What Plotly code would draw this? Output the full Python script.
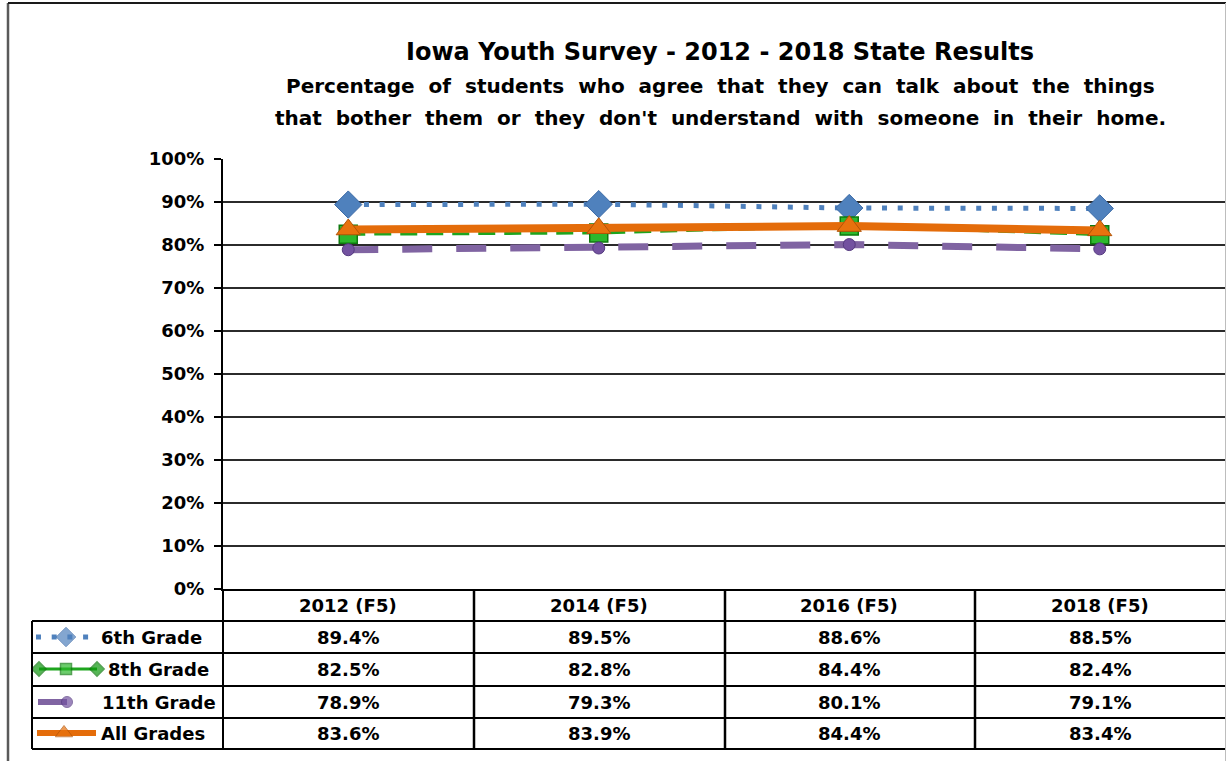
import plotly.graph_objects as go

# ---------------- data ----------------
years = ["2012 (F5)", "2014 (F5)", "2016 (F5)", "2018 (F5)"]
series_names = ["6th Grade", "8th Grade", "11th Grade", "All Grades"]
grade6 = [89.4, 89.5, 88.6, 88.5]
grade8 = [82.5, 82.8, 84.4, 82.4]
grade11 = [78.9, 79.3, 80.1, 79.1]
all_grades = [83.6, 83.9, 84.4, 83.4]
y_tick_values = [0, 10, 20, 30, 40, 50, 60, 70, 80, 90, 100]
y_tick_labels = ["0%", "10%", "20%", "30%", "40%", "50%", "60%", "70%", "80%", "90%", "100%"]
title_lines = [
    "Iowa Youth Survey - 2012 - 2018 State Results",
    "Percentage  of  students  who  agree  that  they  can  talk  about  the  things",
    "that  bother  them  or  they  don't  understand  with  someone  in  their  home.",
]

# ---------------- styles ----------------
W, H = 1226, 761
FONT = "DejaVu Sans, sans-serif"
PLOT_L, PLOT_R, PLOT_T, PLOT_B = 223, 1225, 159, 589
ROW_LINES = [621, 653, 686, 718, 749]
HEADER_Y = 605
ROW_Y = [637, 669, 702, 733]
COL_LINES = [474, 725, 975]
TABLE_L = 32
LABEL_X = [99, 106, 100, 99]

styles = [
    dict(color="#4F81BD", width=5, dash="5px,10.7px",
         marker=dict(symbol="diamond", size=21, color="#4F81BD", line=dict(color="#3B6AA6", width=1)),
         key_marker=15),
    dict(color="#1EA51E", width=3, dash="17px,9px",
         marker=dict(symbol="square", size=18, color="#2DB82D", line=dict(color="#0E7A0E", width=1.5)),
         key_marker=11),
    dict(color="#8064A2", width=7, dash="30px,24px",
         marker=dict(symbol="circle", size=12, color="#7352A0", line=dict(color="#553A80", width=1)),
         key_marker=11),
    dict(color="#E46C0A", width=8, dash="solid",
         marker=dict(symbol="triangle-up", size=21, color="#E8720E", line=dict(color="#B35406", width=1)),
         key_marker=15),
]
series_values = [grade6, grade8, grade11, all_grades]

fig = go.Figure()

# main lines
for name, vals, st in zip(series_names, series_values, styles):
    fig.add_trace(go.Scatter(
        x=years, y=vals, name=name, mode="lines+markers",
        line=dict(color=st["color"], width=st["width"], dash=st["dash"]),
        marker=st["marker"], xaxis="x", yaxis="y", hoverinfo="skip",
    ))

# legend keys inside the data table (pixel-coordinate helper axes)
key_x = [[36, 66, 96], [39, 66, 97], [38, 67, 60], [37, 64, 96]]
for i, (name, st) in enumerate(zip(series_names, styles)):
    ky = ROW_Y[i]
    m = dict(st["marker"])
    if i == 1:
        m["symbol"] = ["diamond", "square", "diamond"]
        m["size"] = [11, st["key_marker"], 11]
        m["color"] = ["#0E9A0E", "#2DB82D", "#0E9A0E"]
    else:
        m["size"] = [0, st["key_marker"], 0]
    fig.add_trace(go.Scatter(
        x=key_x[i], y=[ky, ky, ky],
        mode="lines+markers",
        line=dict(color=st["color"], width=min(st["width"], 6), dash=st["dash"] if i == 0 else "solid"),
        marker=m, xaxis="x2", yaxis="y2", hoverinfo="skip", showlegend=False,
    ))

shapes = []
def pline(x0, y0, x1, y1, color="black", width=2):
    shapes.append(dict(type="line", xref="x2", yref="y2", x0=x0, y0=y0, x1=x1, y1=y1,
                       line=dict(color=color, width=width), layer="above"))

# outer chart border
pline(8, 3, 8, H, color="#5a5a5a", width=2.5)
pline(8, 3, W, 3, color="#1a1a1a", width=2)
pline(1225.5, 3, 1225.5, H, color="#bdbdbd", width=1)
# table
pline(PLOT_L, PLOT_B, PLOT_L, ROW_LINES[-1])
for yl in ROW_LINES:
    pline(TABLE_L, yl, 1225, yl)
pline(TABLE_L, ROW_LINES[0], TABLE_L, ROW_LINES[-1])
for xl in COL_LINES:
    pline(xl, PLOT_B, xl, ROW_LINES[-1], width=2.5)

annotations = []
title_y = [52, 86, 118]
title_sizes = [24, 20, 20]
for t, ty, ts in zip(title_lines, title_y, title_sizes):
    annotations.append(dict(text=t, xref="x2", yref="y2", x=720, y=ty, showarrow=False,
                            xanchor="center", yanchor="middle",
                            font=dict(family=FONT, size=ts, color="black", weight="bold")))
for yr in years:
    annotations.append(dict(text=yr, xref="x", yref="y2", x=yr, y=HEADER_Y, showarrow=False,
                            xanchor="center", yanchor="middle",
                            font=dict(family=FONT, size=18, color="black", weight="bold")))
for i, (name, vals) in enumerate(zip(series_names, series_values)):
    annotations.append(dict(text=name, xref="x2", yref="y2", x=LABEL_X[i], y=ROW_Y[i], showarrow=False,
                            xanchor="left", yanchor="middle",
                            font=dict(family=FONT, size=18, color="black", weight="bold")))
    for yr, v in zip(years, vals):
        annotations.append(dict(text=f"{v:.1f}%", xref="x", yref="y2", x=yr, y=ROW_Y[i],
                                showarrow=False, xanchor="center", yanchor="middle",
                                font=dict(family=FONT, size=18, color="black", weight="bold")))

fig.update_layout(
    template="none",
    width=W, height=H, autosize=False,
    margin=dict(l=0, r=0, t=0, b=0, pad=0, autoexpand=False),
    paper_bgcolor="white", plot_bgcolor="rgba(0,0,0,0)",
    showlegend=False,
    xaxis=dict(type="category", categoryorder="array", categoryarray=years,
               domain=[PLOT_L / W, PLOT_R / W], range=[-0.5, 3.5], automargin=False,
               showticklabels=False, ticks="", showgrid=False, zeroline=False,
               showline=True, linecolor="black", linewidth=2, anchor="y", fixedrange=True),
    yaxis=dict(domain=[1 - PLOT_B / H, 1 - PLOT_T / H], range=[0, 100], automargin=False,
               tickmode="array", tickvals=y_tick_values, ticktext=y_tick_labels,
               ticks="outside", ticklen=7, tickwidth=2, tickcolor="black", ticklabelstandoff=6,
               tickfont=dict(family=FONT, size=18, color="black", weight="bold"),
               showgrid=True, gridcolor="#2b2b2b", gridwidth=2, zeroline=False,
               showline=True, linecolor="black", linewidth=2, anchor="x", fixedrange=True),
    xaxis2=dict(domain=[0, 1], range=[0, W], visible=False, anchor="y2", fixedrange=True,
                automargin=False),
    yaxis2=dict(domain=[0, 1], range=[H, 0], visible=False, anchor="x2", fixedrange=True,
                automargin=False),
    shapes=shapes,
    annotations=annotations,
)

fig.write_html("out.html", config={"displayModeBar": False},
               post_script="document.body.style.margin='0';document.body.style.overflow='hidden';")
